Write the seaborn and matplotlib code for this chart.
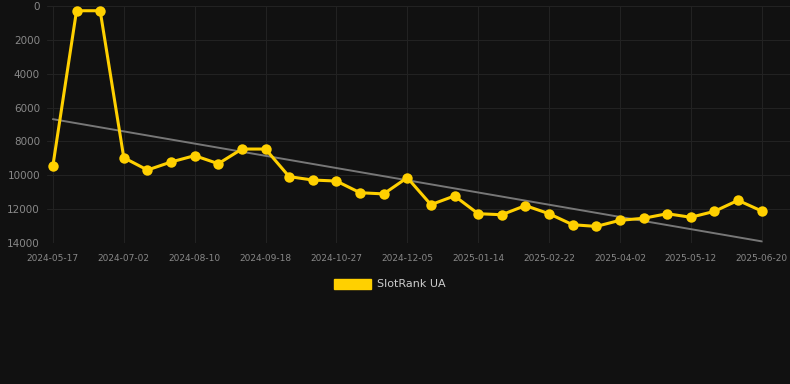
import numpy as np
import pandas as pd
import matplotlib
matplotlib.use('Agg')
import matplotlib.pyplot as plt
import matplotlib.patches as mpatches
import seaborn as sns

dates = ['2024-05-17', '2024-06-01', '2024-06-16', '2024-07-02', '2024-07-15', '2024-07-28',
         '2024-08-10', '2024-08-23', '2024-09-05', '2024-09-18', '2024-10-01', '2024-10-14',
         '2024-10-27', '2024-11-09', '2024-11-22', '2024-12-05', '2024-12-18', '2025-01-01',
         '2025-01-14', '2025-01-27', '2025-02-09', '2025-02-22', '2025-03-07', '2025-03-20',
         '2025-04-02', '2025-04-15', '2025-04-28', '2025-05-12', '2025-05-25', '2025-06-07',
         '2025-06-20']
rank = [9430, 280, 280, 8960, 9690, 9215, 8840, 9315, 8450, 8450,
        10080, 10280, 10340, 11030, 11100, 10140, 11735, 11220, 12270, 12330,
        11790, 12270, 12920, 13020, 12660, 12540, 12270, 12480, 12130, 11480,
        12110]
series_name = 'SlotRank UA'

df = pd.DataFrame({'date': dates, 'rank': rank})
df['idx'] = np.arange(len(df))

# linear trend over the series
slope, intercept = np.polyfit(df['idx'], df['rank'], 1)
df['trend'] = slope * df['idx'] + intercept

sns.set_style('dark')
bg = '#111111'
plt.rcParams['font.family'] = ['DejaVu Sans']

fig = plt.figure(figsize=(7.9, 3.84), dpi=100, facecolor=bg)
ax = fig.add_axes([47 / 790, 1 - 243 / 384, 1 - 47 / 790, (243 - 6) / 384])
ax.set_facecolor(bg)

sns.lineplot(data=df, x='idx', y='trend', color='#777777', linewidth=1.4, ax=ax)
sns.lineplot(data=df, x='idx', y='rank', color='#FFD000', linewidth=2.2,
             marker='o', markersize=7.5, markeredgewidth=0, ax=ax)

ax.set_ylim(14000, 0)
ax.set_xlim(-0.25, 31.2)
ax.set_yticks(np.arange(0, 14001, 2000))
ax.set_xticks(df['idx'][::3])
ax.set_xticklabels(df['date'][::3])
ax.tick_params(axis='y', colors='#888888', labelsize=7.5, length=0, pad=5)
ax.tick_params(axis='x', colors='#888888', labelsize=6.5, length=0, pad=8)
ax.grid(True, color='#222222', linewidth=0.8)
ax.set_xlabel('')
ax.set_ylabel('')
for s in ax.spines.values():
    s.set_visible(False)

handle = mpatches.Patch(color='#FFD000', label=series_name)
fig.legend(handles=[handle], loc='center', bbox_to_anchor=(390 / 790, 1 - 284 / 384),
           frameon=False, fontsize=8, labelcolor='#cccccc',
           handlelength=3.3, handleheight=1.0, handletextpad=0.6)

fig.savefig('out.png', dpi=100, facecolor=bg)
